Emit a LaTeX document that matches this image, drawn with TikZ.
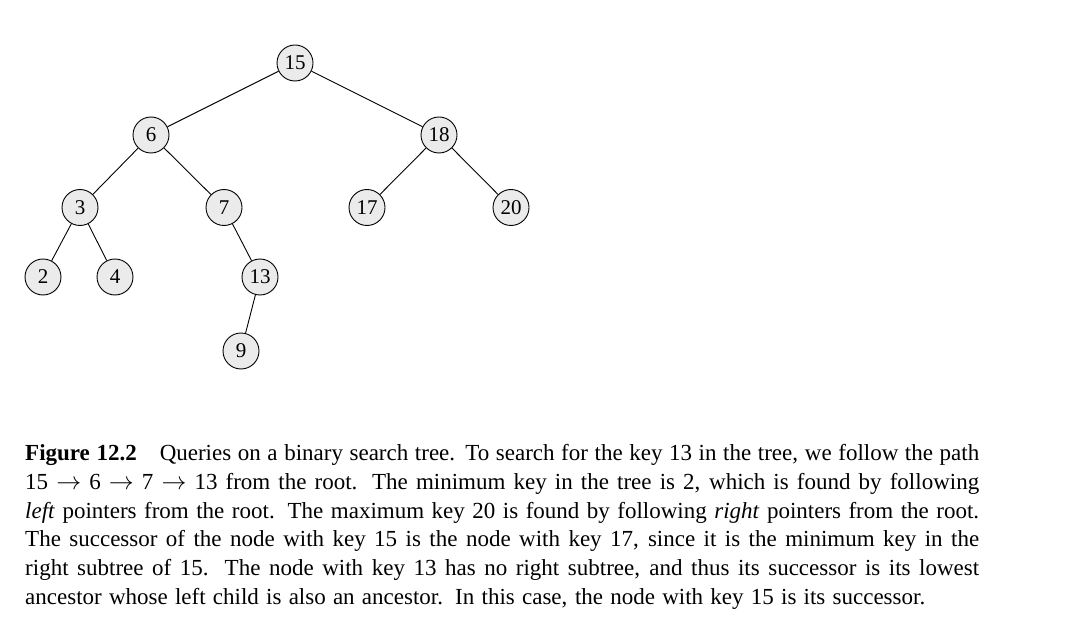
\documentclass[tikz,border=0pt]{standalone}
\usepackage{fontspec}
\setmainfont{Liberation Serif}
\begin{document}
\begin{tikzpicture}[x=1pt,y=-1pt,
  key/.style={circle,draw=black,fill=gray!16,line width=0.9pt,minimum size=36pt,inner sep=0pt,font=\fontsize{21}{24}\selectfont},
  edge/.style={line width=0.9pt},
  capline/.style={anchor=base west,inner sep=0pt,font=\fontsize{23}{28}\selectfont}]
\useasboundingbox (0,0) rectangle (1070,620);
\node[key] (n15) at (295,63) {15};
\node[key] (n6) at (151,135) {6};
\node[key] (n18) at (439,135) {18};
\node[key] (n3) at (80,207.5) {3};
\node[key] (n7) at (224,207.5) {7};
\node[key] (n17) at (367,207.5) {17};
\node[key] (n20) at (511,207.5) {20};
\node[key] (n2) at (43,277) {2};
\node[key] (n4) at (115,277) {4};
\node[key] (n13) at (260,277) {13};
\node[key] (n9) at (241,351) {9};
\draw[edge] (n15) -- (n6);
\draw[edge] (n15) -- (n18);
\draw[edge] (n6) -- (n3);
\draw[edge] (n6) -- (n7);
\draw[edge] (n18) -- (n17);
\draw[edge] (n18) -- (n20);
\draw[edge] (n3) -- (n2);
\draw[edge] (n3) -- (n4);
\draw[edge] (n7) -- (n13);
\draw[edge] (n13) -- (n9);
\node[capline] (c1) at (25,460) {\makebox[954pt][s]{\textbf{Figure 12.2}\quad Queries on a binary search tree. To search for the key 13 in the tree, we follow the path}};
\node[capline] (c2) at (25,489) {\makebox[954pt][s]{15 $\rightarrow$ 6 $\rightarrow$ 7 $\rightarrow$ 13 from the root. The minimum key in the tree is 2, which is found by following}};
\node[capline] (c3) at (25,518) {\makebox[954pt][s]{\textit{left} pointers from the root. The maximum key 20 is found by following \textit{right} pointers from the root.}};
\node[capline] (c4) at (25,546.5) {\makebox[954pt][s]{The successor of the node with key 15 is the node with key 17, since it is the minimum key in the}};
\node[capline] (c5) at (25,575) {\makebox[954pt][s]{right subtree of 15. The node with key 13 has no right subtree, and thus its successor is its lowest}};
\node[capline] (c6) at (25,604) {\makebox[900pt][s]{ancestor whose left child is also an ancestor. In this case, the node with key 15 is its successor.}};
\end{tikzpicture}
\end{document}
